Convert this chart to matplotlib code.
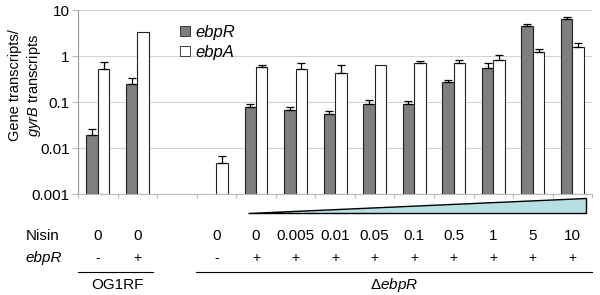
import numpy as np
import matplotlib.pyplot as plt
from matplotlib.patches import Polygon, Patch
from matplotlib.transforms import blended_transform_factory

plt.rcParams['font.family'] = 'Liberation Sans'
plt.rcParams['mathtext.fontset'] = 'custom'
plt.rcParams['mathtext.rm'] = 'Liberation Sans'
plt.rcParams['mathtext.it'] = 'Liberation Sans:italic'

nan = np.nan

# dados
nisin = ['0', '0', '', '0', '0', '0.005', '0.01', '0.05', '0.1', '0.5', '1', '5', '10']
ebpR_plus = ['-', '+', '', '-', '+', '+', '+', '+', '+', '+', '+', '+', '+']

ebpR = [0.019, 0.246, nan, nan, 0.078, 0.067, 0.055, 0.091, 0.09, 0.27, 0.55, 4.5, 6.4]
ebpR_top = [0.026, 0.33, nan, nan, 0.09, 0.078, 0.064, 0.11, 0.105, 0.30, 0.71, 5.0, 7.0]
ebpA = [0.52, 3.3, nan, 0.0047, 0.58, 0.52, 0.43, 0.64, 0.70, 0.72, 0.82, 1.22, 1.57]
ebpA_top = [0.74, nan, nan, 0.0067, 0.64, 0.71, 0.64, nan, 0.77, 0.82, 1.05, 1.42, 1.9]

ebpR = np.array(ebpR)
ebpR_top = np.array(ebpR_top)
ebpA = np.array(ebpA)
ebpA_top = np.array(ebpA_top)

x = np.arange(len(nisin))
w = 0.29
base = 0.001

fig = plt.figure(figsize=(6, 2.95), dpi=100)
ax = fig.add_axes([0.13, 0.342, 0.857, 0.624])

ax.bar(x - w/2, ebpR - base, w, bottom=base, color='#7f7f7f', edgecolor='#222222', linewidth=0.8, zorder=2)
ax.bar(x + w/2, ebpA - base, w, bottom=base, color='white', edgecolor='#222222', linewidth=0.8, zorder=2)

# barras de erro (so para cima)
for xs, v, t in [(x - w/2, ebpR, ebpR_top), (x + w/2, ebpA, ebpA_top)]:
    ok = ~np.isnan(t)
    ax.errorbar(xs[ok], v[ok], yerr=[np.zeros(ok.sum()), (t - v)[ok]], fmt='none',
                ecolor='black', elinewidth=0.9, capsize=3, capthick=0.9, zorder=3)

ax.set_yscale('log')
ax.set_ylim(0.001, 10)
ax.set_xlim(-0.5, len(nisin) - 0.5)
ax.set_yticks([0.001, 0.01, 0.1, 1, 10])
ax.set_yticklabels(['0.001', '0.01', '0.1', '1', '10'], fontsize=11)
ax.yaxis.set_minor_locator(plt.NullLocator())
ax.grid(True, axis='y', color='#d4d4d4', linewidth=0.8, zorder=0)
ax.set_axisbelow(True)
ax.set_xticks(np.arange(len(nisin) + 1) - 0.5)
ax.set_xticklabels([])
ax.tick_params(axis='x', length=3, color='#bbbbbb')
ax.tick_params(axis='y', length=4, color='#bbbbbb', pad=2)
for s in ['top', 'right']:
    ax.spines[s].set_visible(False)
ax.spines['left'].set_color('#999999')
ax.spines['bottom'].set_color('#bbbbbb')

ax.set_ylabel('Gene transcripts/\n$\\mathit{gyrB}$ transcripts', fontsize=10.5, linespacing=1.2)
ax.yaxis.set_label_coords(-0.068, 0.59)

handles = [Patch(facecolor='#7f7f7f', edgecolor='#222222', linewidth=0.6),
           Patch(facecolor='white', edgecolor='#222222', linewidth=0.6)]
leg = ax.legend(handles, ['ebpR', 'ebpA'], loc='upper left', bbox_to_anchor=(0.17, 1.0),
                frameon=False, handlelength=0.6, handleheight=0.6, handletextpad=0.3,
                labelspacing=0.3, prop={'style': 'italic', 'size': 12})

tr = blended_transform_factory(ax.transData, fig.transFigure)

# triangulo de concentracao
tri = Polygon([[3.80, 0.278], [12.34, 0.278], [12.34, 0.329]], closed=True,
              facecolor='#b7dfe2', edgecolor='black', linewidth=1, transform=tr, clip_on=False)
ax.add_patch(tri)

fig.text(0.043, 0.2, 'Nisin', fontsize=11, va='center', ha='left')
fig.text(0.043, 0.125, 'ebpR', fontsize=11, va='center', ha='left', style='italic')
for i in x:
    fig.text(i, 0.2, nisin[i], fontsize=11, va='center', ha='center', transform=tr)
    fig.text(i, 0.125, ebpR_plus[i], fontsize=10, va='center', ha='center', transform=tr)

fig.add_artist(plt.Line2D([-0.5, 1.4], [0.078, 0.078], color='black', linewidth=0.8, transform=tr))
fig.add_artist(plt.Line2D([2.49, 12.5], [0.078, 0.078], color='black', linewidth=0.8, transform=tr))
fig.text(0.5, 0.034, 'OG1RF', fontsize=11, va='center', ha='center', transform=tr)
fig.text(7.5, 0.034, '$\\mathrm{\\Delta}\\mathit{ebpR}$', fontsize=11, va='center', ha='center', transform=tr)

fig.savefig('out.png', dpi=100)
